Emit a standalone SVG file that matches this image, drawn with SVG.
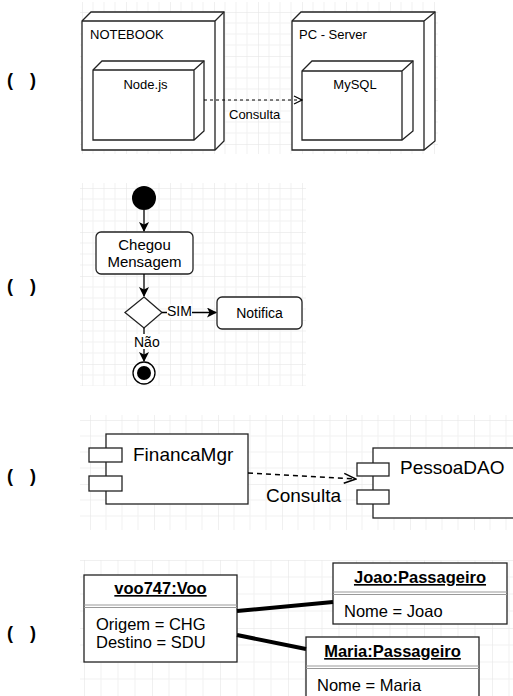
<svg xmlns="http://www.w3.org/2000/svg" width="513" height="696" viewBox="0 0 513 696">
<defs>
<pattern id="g11" width="44" height="44" patternUnits="userSpaceOnUse" x="82" y="12">
<path d="M11 0V44M22 0V44M33 0V44M0 11H44M0 22H44M0 33H44" stroke="#f1f1f1" stroke-width="1" fill="none"/>
<path d="M0 0V44M0 0H44" stroke="#e2e2e2" stroke-width="1" fill="none"/>
</pattern>
<pattern id="g16" width="64" height="64" patternUnits="userSpaceOnUse" x="90" y="420">
<path d="M16 0V64M32 0V64M48 0V64M0 16H64M0 32H64M0 48H64" stroke="#f1f1f1" stroke-width="1" fill="none"/>
<path d="M0 0V64M0 0H64" stroke="#e2e2e2" stroke-width="1" fill="none"/>
</pattern>
<pattern id="g17" width="68" height="68" patternUnits="userSpaceOnUse" x="84" y="560">
<path d="M17 0V68M34 0V68M51 0V68M0 17H68M0 34H68M0 51H68" stroke="#f1f1f1" stroke-width="1" fill="none"/>
<path d="M0 0V68M0 0H68" stroke="#e2e2e2" stroke-width="1" fill="none"/>
</pattern>
<marker id="open" viewBox="0 0 10 10" refX="9" refY="5" markerWidth="10" markerHeight="10" markerUnits="userSpaceOnUse" orient="auto">
<path d="M1 1L9 5L1 9" fill="none" stroke="#000" stroke-width="1.2"/>
</marker>
<marker id="openL" viewBox="0 0 14 14" refX="13" refY="7" markerWidth="14" markerHeight="14" markerUnits="userSpaceOnUse" orient="auto">
<path d="M1 2L13 7L1 12" fill="none" stroke="#000" stroke-width="1.5"/>
</marker>
<marker id="fill" viewBox="0 0 10 10" refX="9" refY="5" markerWidth="10" markerHeight="10" markerUnits="userSpaceOnUse" orient="auto">
<path d="M0 0L10 5L0 10L2.5 5Z" fill="#000"/>
</marker>
</defs>
<style>
text{font-family:"Liberation Sans",Arial,sans-serif;fill:#000}
.n{fill:#fff;stroke:#222;stroke-width:1.3}
.s{fill:none;stroke:#222;stroke-width:1.3}
.p{font-size:18px;font-weight:bold}
.t1{font-size:13px}
.t2{font-size:14px}
.t2b{font-size:15px}
.t3{font-size:19px}
.t4{font-size:16.5px}
.b{font-weight:bold;text-decoration:underline}
</style>
<rect width="513" height="696" fill="#fff"/>
<rect x="80" y="2" width="358" height="152" fill="url(#g11)"/>
<rect x="80" y="183" width="226" height="203" fill="url(#g11)"/>
<rect x="80" y="415" width="433" height="115" fill="url(#g16)"/>
<rect x="80" y="560" width="433" height="136" fill="url(#g17)"/>

<g id="labels">
<text class="p"><tspan x="7" y="86">(</tspan><tspan x="30" y="86">)</tspan></text>
<text class="p"><tspan x="7" y="292">(</tspan><tspan x="30" y="292">)</tspan></text>
<text class="p"><tspan x="7" y="482">(</tspan><tspan x="30" y="482">)</tspan></text>
<text class="p"><tspan x="7" y="639">(</tspan><tspan x="30" y="639">)</tspan></text>
</g>

<g id="notebook">
<path class="n" d="M82 21L91 12H224V141L215 150H82Z"/>
<path class="s" d="M82 21H215V150M215 21L224 12"/>
<text class="t1" x="90" y="39">NOTEBOOK</text>
</g>
<g id="nodejs">
<path class="n" d="M93 70L102 61H204V131L194 140H93Z"/>
<path class="s" d="M93 70H194V140M194 70L204 61"/>
<text class="t1" x="145.5" y="89" text-anchor="middle">Node.js</text>
</g>
<g id="pcserver">
<path class="n" d="M292 21L301 12H435V141L424 150H292Z"/>
<path class="s" d="M292 21H424V150M424 21L435 12"/>
<text class="t1" x="299" y="39">PC - Server</text>
</g>
<g id="mysql">
<path class="n" d="M302 71L312 61H413V131L402 140H302Z"/>
<path class="s" d="M302 71H402V140M402 71L413 61"/>
<text class="t1" x="355" y="89" text-anchor="middle">MySQL</text>
</g>

<g id="start"><circle cx="144" cy="198" r="12" fill="#000"/></g>
<g id="chegou">
<rect class="n" x="96" y="232" width="97" height="42" rx="5"/>
<text class="t2b" x="144.5" y="250" text-anchor="middle">Chegou</text>
<text class="t2b" x="144.5" y="267" text-anchor="middle">Mensagem</text>
</g>
<g id="decisao"><path class="n" d="M144 297L162 312.5L144 328L125 312.5Z"/></g>
<g id="notifica">
<rect class="n" x="217" y="297" width="85" height="32" rx="5"/>
<text class="t2" x="259.5" y="318" text-anchor="middle">Notifica</text>
</g>
<g id="fim">
<circle cx="144" cy="373" r="11" fill="#fff" stroke="#000" stroke-width="1.3"/>
<circle cx="144" cy="373" r="7" fill="#000"/>
</g>

<g id="financamgr">
<rect class="n" x="106" y="434" width="142" height="70"/>
<rect class="n" x="89" y="448" width="33" height="14"/>
<rect class="n" x="89" y="476" width="33" height="15"/>
<text class="t3" x="133" y="461">FinancaMgr</text>
</g>
<g id="pessoadao">
<rect class="n" x="373" y="448" width="150" height="70"/>
<rect class="n" x="357" y="463" width="32" height="13"/>
<rect class="n" x="357" y="490" width="32" height="14"/>
<text class="t3" x="400" y="474">PessoaDAO</text>
</g>

<g id="voo747">
<rect class="n" x="84" y="575" width="153" height="87"/>
<path d="M84 605H237M84 607.5H237" stroke="#999" stroke-width="1"/>
<text class="t4 b" x="160.5" y="594" text-anchor="middle">voo747:Voo</text>
<text class="t4" x="96" y="630">Origem = CHG</text>
<text class="t4" x="96" y="648">Destino = SDU</text>
</g>
<g id="joao">
<rect class="n" x="333" y="563" width="174" height="61"/>
<path d="M333 592H507M333 594.5H507" stroke="#999" stroke-width="1"/>
<text class="t4 b" x="420" y="583" text-anchor="middle">Joao:Passageiro</text>
<text class="t4" x="344" y="617">Nome = Joao</text>
</g>
<g id="maria">
<rect class="n" x="306" y="637" width="173" height="70"/>
<path d="M306 666H479M306 668.5H479" stroke="#999" stroke-width="1"/>
<text class="t4 b" x="392.5" y="657" text-anchor="middle">Maria:Passageiro</text>
<text class="t4" x="317" y="691">Nome = Maria</text>
</g>

<g id="connectors">
<path d="M204 100H302" stroke="#000" stroke-width="1" stroke-dasharray="3,3" fill="none" marker-end="url(#open)"/>
<text class="t1" x="229" y="119">Consulta</text>
<path d="M144 210V231" stroke="#000" stroke-width="1.3" marker-end="url(#fill)"/>
<path d="M144 274V296" stroke="#000" stroke-width="1.3" marker-end="url(#fill)"/>
<path d="M162 312.5H216" stroke="#000" stroke-width="1.3" marker-end="url(#fill)"/>
<rect x="167" y="304" width="25" height="14" fill="#fff"/>
<text class="t2" x="167" y="316">SIM</text>
<path d="M144 328V361" stroke="#000" stroke-width="1.3" marker-end="url(#fill)"/>
<rect x="133" y="334" width="28" height="15" fill="#fff"/>
<text class="t2" x="134" y="347">Não</text>
<path d="M248 473L356 479" stroke="#000" stroke-width="1.5" stroke-dasharray="5,4" fill="none" marker-end="url(#openL)"/>
<text class="t3" x="266" y="502">Consulta</text>
<path d="M237 611L333 602" stroke="#000" stroke-width="4"/>
<path d="M237 635L306 649" stroke="#000" stroke-width="4"/>
</g>
</svg>
